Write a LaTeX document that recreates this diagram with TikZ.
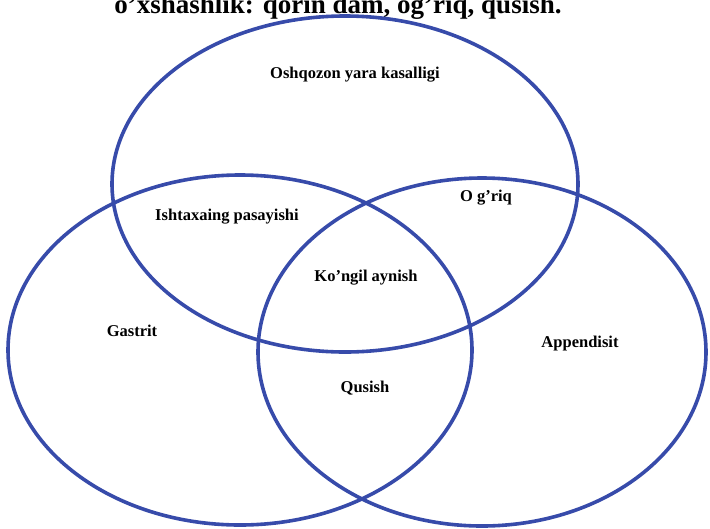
\documentclass[tikz,border=0pt]{standalone}
\usepackage{fontspec}
\setmainfont{Liberation Serif}
\definecolor{vblue}{RGB}{55,75,170}
\begin{document}
\begin{tikzpicture}[x=1pt,y=1pt,
  ring/.style={draw=vblue,line width=3.6pt},
  lbl/.style={font=\bfseries\fontsize{16.5}{18}\selectfont,inner sep=0pt}]
\useasboundingbox (0,0) rectangle (710,-528);
\node[font=\bfseries\fontsize{27}{29}\selectfont,anchor=base,inner sep=0pt] (title) at (338,-13.5) {o’xshashlik: qorin dam, og’riq, qusish.};
\draw[ring] (345,-184) ellipse [x radius=233, y radius=168];
\draw[ring] (240,-350) ellipse [x radius=232, y radius=175];
\draw[ring] (482,-352) ellipse [x radius=224, y radius=174];
\node[lbl] (oyk) at (355,-75) {Oshqozon yara kasalligi};
\node[lbl] (ish) at (227,-217) {Ishtaxaing pasayishi};
\node[lbl] (ogr) at (486,-198) {O g’riq};
\node[lbl] (kon) at (366,-278) {Ko’ngil aynish};
\node[lbl] (gas) at (132,-331) {Gastrit};
\node[lbl] (app) at (580,-344) {Appendisit};
\node[lbl] (qus) at (365,-388) {Qusish};
\end{tikzpicture}
\end{document}
